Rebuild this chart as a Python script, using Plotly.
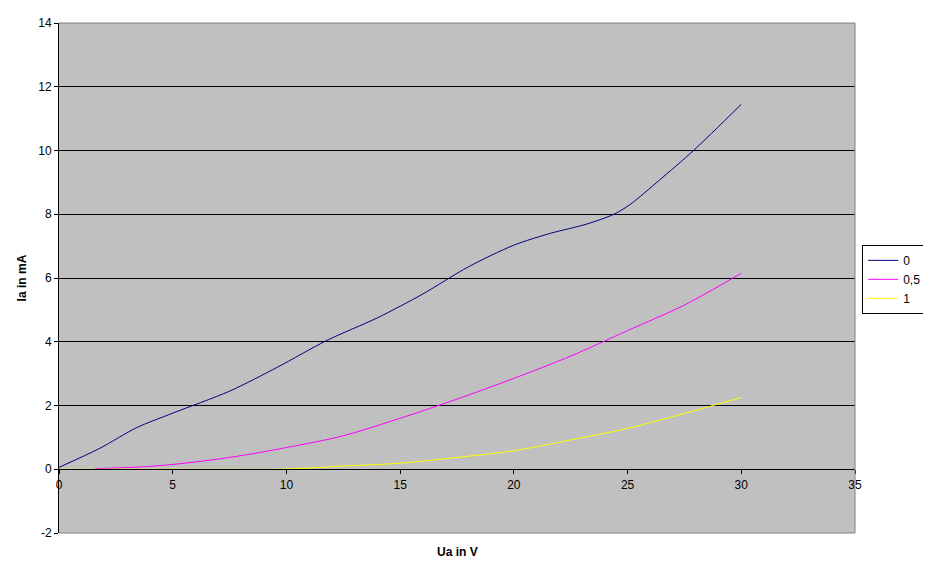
import plotly.graph_objects as go

# Series data (Ua in V, Ia in mA)
ua_0 = [0, 1.8, 3.4, 5.0, 7.5, 9.6, 11.8, 14.0, 16.0, 18.0, 20.0, 21.6, 23.2, 24.4, 25.1, 26.4, 27.9, 30.0]
ia_0 = [0.06, 0.66, 1.3, 1.76, 2.45, 3.2, 4.05, 4.75, 5.5, 6.35, 7.03, 7.4, 7.69, 8.0, 8.3, 9.07, 10.0, 11.45]

ua_05 = [1.6, 3.5, 5, 7.5, 10, 12.5, 15, 17.5, 20, 22.5, 25, 27.5, 30]
ia_05 = [0.02, 0.07, 0.15, 0.37, 0.68, 1.05, 1.6, 2.2, 2.85, 3.55, 4.35, 5.15, 6.15]

ua_1 = [0, 2.5, 5, 7.5, 9.5, 11, 12.5, 15, 17.5, 20, 22.5, 25, 27.5, 30]
ia_1 = [0, 0, 0, 0, 0, 0.04, 0.1, 0.19, 0.37, 0.58, 0.92, 1.28, 1.75, 2.25]

series_names = ["0", "0,5", "1"]
series_colors = ["#000080", "#FF00FF", "#FFFF00"]

x_ticks = [0, 5, 10, 15, 20, 25, 30, 35]
y_ticks = [-2, 0, 2, 4, 6, 8, 10, 12, 14]

FONT = "Liberation Sans, Arial, sans-serif"

fig = go.Figure()
for xs, ys, name, col in zip([ua_0, ua_05, ua_1], [ia_0, ia_05, ia_1], series_names, series_colors):
    fig.add_trace(go.Scatter(x=xs, y=ys, name=name, mode="lines",
                             line=dict(color=col, width=1, shape="spline", smoothing=0.8)))

fig.update_layout(
    width=923, height=558,
    margin=dict(l=51, r=76, t=15, b=33, autoexpand=False),
    paper_bgcolor="white",
    plot_bgcolor="#C0C0C0",
    font=dict(family=FONT, size=12, color="black"),
    showlegend=True,
    legend=dict(x=1.009, y=0.565, xanchor="left", yanchor="top",
                bordercolor="black", borderwidth=1, bgcolor="white",
                font=dict(family=FONT, size=12), itemwidth=30,
                tracegroupgap=0),
    xaxis=dict(range=[0, 35], tickvals=x_ticks, ticktext=[str(v) for v in x_ticks],
               anchor="free", position=0.125, showline=True, linecolor="black", linewidth=1,
               ticks="outside", ticklen=4, tickcolor="black", showgrid=False, zeroline=False,
               automargin=False, tickfont=dict(family=FONT, size=12)),
    yaxis=dict(range=[-2, 14], tickvals=y_ticks, ticktext=[str(v) for v in y_ticks],
               showline=True, linecolor="black", linewidth=1,
               ticks="outside", ticklen=4, tickcolor="black",
               showgrid=True, gridcolor="black", gridwidth=1, zeroline=False,
               automargin=False, tickfont=dict(family=FONT, size=12)),
    shapes=[
        dict(type="line", xref="paper", yref="paper", x0=0, x1=1, y0=1, y1=1,
             line=dict(color="#808080", width=1), layer="above"),
        dict(type="line", xref="paper", yref="paper", x0=1, x1=1, y0=0, y1=1,
             line=dict(color="#808080", width=1), layer="above"),
        dict(type="line", xref="paper", yref="paper", x0=0, x1=1, y0=0, y1=0,
             line=dict(color="#808080", width=1), layer="above"),
    ],
    annotations=[
        dict(text="<b>Ua in V</b>", xref="paper", yref="paper", x=0.5, y=-0.037,
             xanchor="center", yanchor="middle", showarrow=False,
             font=dict(family=FONT, size=12)),
        dict(text="<b>Ia in mA</b>", xref="paper", yref="paper", x=-0.046, y=0.5,
             xanchor="center", yanchor="middle", showarrow=False, textangle=-90,
             font=dict(family=FONT, size=12)),
    ],
)

fig.write_html("out.html")
